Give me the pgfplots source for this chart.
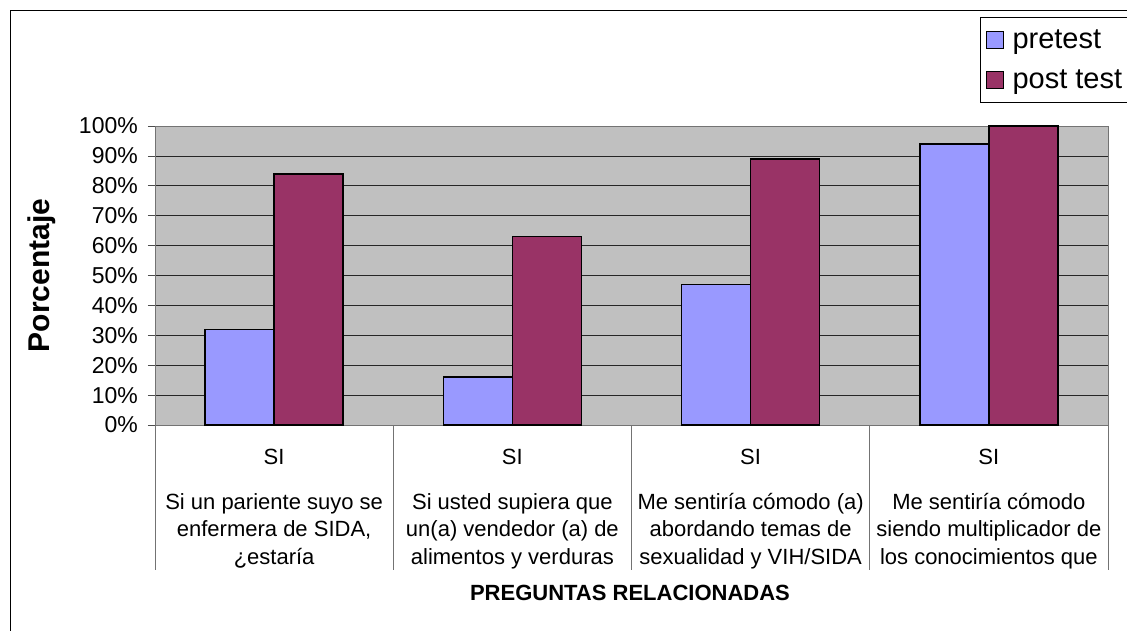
\documentclass[border=0pt]{standalone}
\usepackage{pgfplots}
\pgfplotsset{compat=1.18}
\usepackage{fontspec}
\setmainfont{Liberation Sans}
\definecolor{pre}{HTML}{9999FF}
\definecolor{post}{HTML}{993366}
\definecolor{bg}{HTML}{C0C0C0}
\begin{document}
\begin{tikzpicture}
\useasboundingbox (0,0) rectangle (1127pt,-630pt);
\fill[white] (0,0) rectangle (1127pt,-630pt);
\draw[black, line width=1pt] (10pt,-10pt) rectangle (1200pt,-700pt);
\begin{axis}[
  at={(155pt,-425pt)}, anchor=south west,
  scale only axis, width=953pt, height=299pt,
  xmin=-0.5, xmax=3.5, ymin=0, ymax=100,
  clip=false,
  axis background/.style={fill=bg},
  axis line style={draw=black!55, line width=1pt},
  ymajorgrids, major grid style={black!85, line width=0.8pt},
  tick pos=left, tick align=outside,
  major tick length=7pt,
  tick style={black!70, line width=0.8pt},
  ytick={0,10,...,100},
  yticklabel={\pgfmathprintnumber[assume math mode=true]{\tick}\%},
  yticklabel style={font=\fontsize{23}{26}\selectfont, inner sep=0pt, xshift=-10pt},
  xtick={0,1,2,3},
  xticklabels={
    {SI\\[17pt]Si un pariente suyo se\\enfermera de SIDA,\\¿estaría},
    {SI\\[17pt]Si usted supiera que\\un(a) vendedor (a) de\\alimentos y verduras},
    {SI\\[17pt]Me sentiría cómodo (a)\\abordando temas de\\sexualidad y VIH/SIDA},
    {SI\\[17pt]Me sentiría cómodo\\siendo multiplicador de\\los conocimientos que}},
  xticklabel style={font=\fontsize{22}{27.5}\selectfont, align=center, anchor=north, inner sep=0pt, yshift=-17pt},
  x tick style={draw=none},
  ylabel={Porcentaje},
  ylabel style={at={(axis description cs:-0.1186,0.5)}, anchor=center, font=\bfseries\fontsize{30}{32}\selectfont},
  xlabel={PREGUNTAS RELACIONADAS},
  xlabel style={at={(axis description cs:0.4984,-0.5619)}, anchor=center, font=\bfseries\fontsize{22}{26}\selectfont},
  legend style={at={(rel axis cs:0.8657,1.3645)}, anchor=north west, draw=black, line width=1pt,
    fill=white, font=\fontsize{29}{30}\selectfont, row sep=16pt, inner xsep=5pt, inner ysep=10pt,
    /tikz/every odd column/.append style={column sep=7pt}},
  legend cell align=left,
  legend image code/.code={\draw[#1, line width=1pt] (5pt,-8.5pt) rectangle (22pt,8.5pt);},
]
\addplot[ybar, bar width=69pt, bar shift=-34.5pt, fill=pre, draw=black, line width=1.5pt]
  coordinates {(0,32) (1,16) (2,47) (3,94)};
\addplot[ybar, bar width=69pt, bar shift=34.5pt, fill=post, draw=black, line width=1.5pt]
  coordinates {(0,84) (1,63) (2,89) (3,100)};
\legend{pretest, post test}
\foreach \s in {-0.5,0.5,1.5,2.5,3.5} {
  \edef\temp{\noexpand\draw[black!55, line width=1pt] (axis cs:\s,0) -- ++(0pt,-145pt);}
  \temp
}
\end{axis}
\end{tikzpicture}
\end{document}
